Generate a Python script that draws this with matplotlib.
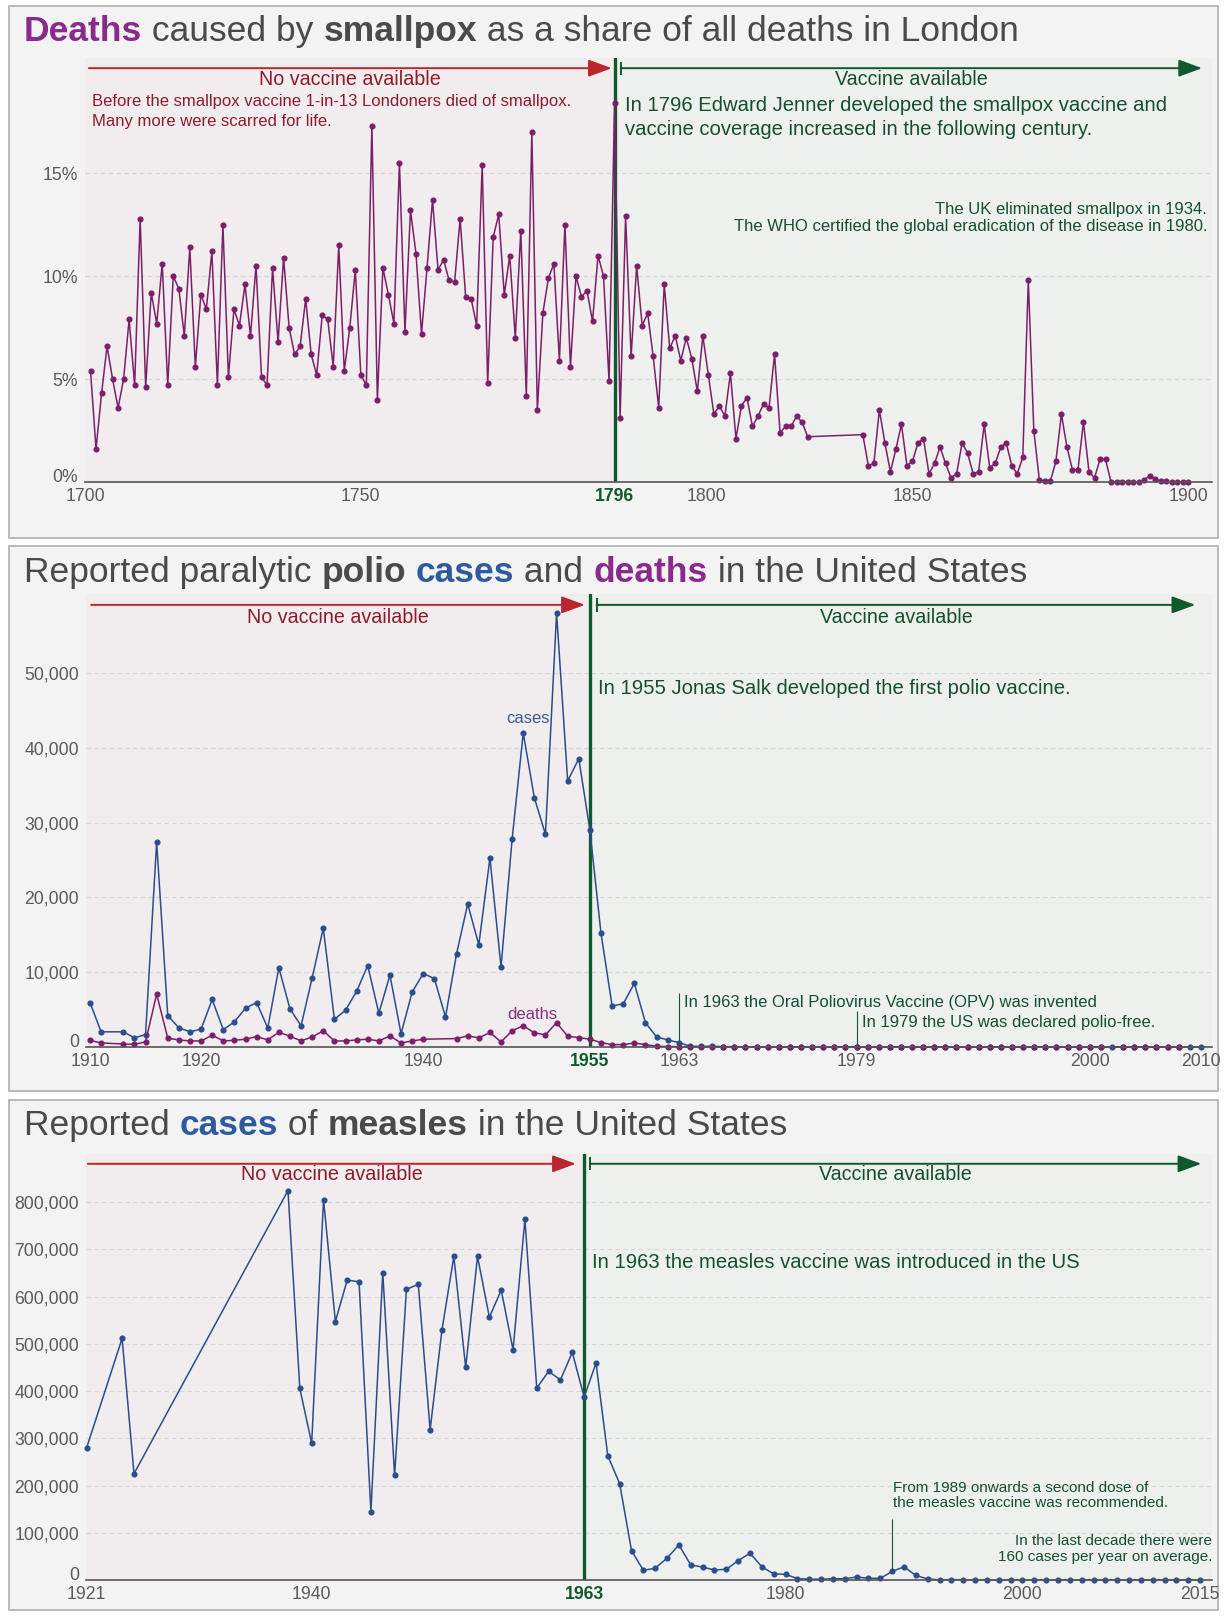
import matplotlib
matplotlib.use("Agg")
import matplotlib.pyplot as plt
from matplotlib.patches import Rectangle
from matplotlib.transforms import blended_transform_factory, ScaledTranslation

plt.rcParams['font.family'] = ['Liberation Sans', 'DejaVu Sans']

# ---------------- data ----------------
# smallpox deaths as share of all deaths in London, %
smallpox_years = list(range(1701, 1832)) + list(range(1841, 1901))
smallpox_share = [
    5.4, 1.6, 4.3, 6.6, 5.0, 3.6, 5.0, 7.9, 4.7, 12.8,
    4.6, 9.2, 7.7, 10.6, 4.7, 10.0, 9.4, 7.1, 11.4, 5.6,
    9.1, 8.4, 11.2, 4.7, 12.5, 5.1, 8.4, 7.6, 9.6, 7.1,
    10.5, 5.1, 4.7, 10.4, 6.8, 10.9, 7.5, 6.2, 6.6, 8.9,
    6.2, 5.2, 8.1, 7.9, 5.6, 11.5, 5.4, 7.5, 10.3, 5.2,
    4.7, 17.3, 4.0, 10.4, 9.1, 7.7, 15.5, 7.3, 13.2, 11.1,
    7.2, 10.4, 13.7, 10.3, 10.8, 9.8, 9.7, 12.8, 9.0, 8.9,
    7.6, 15.4, 4.8, 11.9, 13.0, 9.1, 11.0, 7.0, 12.2, 4.2,
    17.0, 3.5, 8.2, 9.9, 10.6, 5.9, 12.5, 5.6, 10.0, 9.0,
    9.3, 7.8, 11.0, 10.0, 4.9, 18.4,
    # 1797-1831
    3.1, 12.9, 6.1, 10.5, 7.6, 8.2, 6.1, 3.6, 9.6, 6.5,
    7.1, 5.9, 7.0, 6.0, 4.4, 7.1, 5.2, 3.3, 3.7, 3.2,
    5.3, 2.1, 3.7, 4.1, 2.7, 3.2, 3.8, 3.6, 6.2, 2.4,
    2.7, 2.7, 3.2, 2.9, 2.2,
    # 1841-1900
    2.3, 0.8, 0.9, 3.5, 1.9, 0.5, 1.6, 2.8, 0.8, 1.0,
    1.9, 2.1, 0.4, 0.9, 1.7, 0.9, 0.2, 0.4, 1.9, 1.4,
    0.4, 0.5, 2.8, 0.7, 0.9, 1.7, 1.9, 0.8, 0.4, 1.2,
    9.8, 2.5, 0.1, 0.05, 0.05, 1.0, 3.3, 1.7, 0.6, 0.6,
    2.9, 0.5, 0.2, 1.1, 1.1,
    0.0, 0.0, 0.0, 0.0, 0.0, 0.0, 0.1, 0.3, 0.15, 0.05,
    0.03, 0.01, 0.01, 0.0, 0.0,
]

# paralytic polio in the US
polio_case_years = [1910, 1911] + list(range(1913, 2011))
polio_cases = [
    5950, 2030, 2030, 1220, 1670, 27400, 4190, 2570, 2030, 2390,
    6360, 2300, 3380, 5190, 5950, 2530, 10600, 5100, 2840, 9250,
    15900, 3700, 4920, 7440, 10900, 4510, 9610, 1760, 7350, 9830,
    9160, 4010, 12490, 19130, 13670, 25260, 10690, 27830, 42000, 33330,
    28460, 58050, 35590, 38570, 29000,
    15200, 5500, 5770, 8520, 3250, 1350, 950, 590, 120, 72,
    113, 41, 53, 20, 33, 21, 31, 8, 7, 13,
    10, 19, 8, 22, 9, 10, 12, 13, 9, 8,
    10, 9, 9, 11, 6, 10, 6, 4, 8, 7,
    7, 4, 3, 2, 0, 0, 1, 0, 0, 0,
    0, 0, 0, 1, 0,
]
polio_death_years = ([1910, 1911] + list(range(1913, 1941)) +
                     list(range(1943, 2002)) + list(range(2003, 2009)))
polio_deaths = [
    900, 540, 400, 360, 680, 7080, 1170, 950, 810, 810,
    1580, 810, 900, 1040, 1400, 950, 1980, 1440, 810, 1350,
    2170, 810, 810, 950, 1040, 810, 1490, 540, 810, 1040,
    1130, 1490, 1220, 1940, 680, 2170, 2840, 1890, 1620, 3250,
    1440, 1260, 1040,
    590, 320, 320, 540, 320, 90, 60, 41, 17, 16,
    9, 16, 24, 13, 7, 18, 2, 10, 3, 9,
    16, 16, 13, 10, 5, 3, 2, 2, 1, 2,
    1, 1, 1, 1, 1, 0, 0, 0, 0, 0,
    0, 0, 0, 0, 0, 0,
    0, 0, 0, 0, 0, 0,
]

# measles in the US
measles_years = [1921, 1924, 1925] + list(range(1938, 2016))
measles_cases = [
    279500, 511400, 225000,
    824200, 405300, 289400, 805300, 547000, 634800, 631100, 144700, 650800, 221200,
    615200, 625800, 318200, 529500, 684800, 450000, 684800, 556100, 613600, 487100,
    763600, 406100, 441700, 423500, 481800, 387100, 459100, 262900, 203800,
    62100, 20500, 25000, 46200, 74200, 31800, 27300, 21200, 22700, 40900,
    56800, 28000, 12900, 12100, 3000, 1700, 1500, 2600, 2800, 6300,
    3700, 3400, 18200, 27800, 9600, 2200,
    312, 963, 309, 508, 138, 100, 100, 86, 116, 44,
    56, 37, 66, 55, 43, 140, 71, 63, 220, 55,
    187, 667, 188,
]

smallpox_yticks = [0, 5, 10, 15]
smallpox_ylabels = ['0%', '5%', '10%', '15%']
smallpox_xticks = [1700, 1750, 1796, 1850, 1900]
polio_yticks = [0, 10000, 20000, 30000, 40000, 50000]
polio_xticks = [1910, 1920, 1940, 1955, 1963, 1979, 2000, 2010]
measles_yticks = [0, 100000, 200000, 300000, 400000, 500000, 600000, 700000, 800000]
measles_xticks = [1921, 1940, 1963, 1980, 2000, 2015]

# ---------------- style ----------------
W, H = 1229, 1618
PURPLE_T = '#8a2a8c'
PURPLE = '#7b1f68'
BLUE_T = '#2f5a9e'
BLUE = '#2b4d8c'
GREEN = '#0f5a2c'
GREEN_T = '#14502d'
RED = '#bb2530'
RED_T = '#8e1b2b'
GRAY = '#4a4a4a'
TICK = '#5a5a5a'
PRE_BG = '#f1edef'
POST_BG = '#eef0ee'
BOX_BG = '#f3f3f3'

fig = plt.figure(figsize=(W / 100, H / 100), dpi=100)
fig.patch.set_facecolor('white')
renderer = fig.canvas.get_renderer()


def add_box(top, bottom):
    fig.add_artist(Rectangle((9 / W, 1 - bottom / H), (1218 - 9) / W, (bottom - top) / H,
                             transform=fig.transFigure, facecolor=BOX_BG,
                             edgecolor='#b5b5b5', lw=1.3, zorder=-5))


def add_title(baseline, parts):
    x = 24 / W
    for s, color, weight in parts:
        t = fig.text(x, 1 - baseline / H, s, color=color, fontweight=weight,
                     fontsize=25.5, va='baseline', ha='left')
        x += t.get_window_extent(renderer).width / W


def make_axes(left, top, bottom, xlim, ylim, vacc, yticks, ylabels):
    ax = fig.add_axes([left / W, 1 - bottom / H, (1212 - left) / W, (bottom - top) / H])
    ax.patch.set_visible(False)
    ax.set_xlim(*xlim)
    ax.set_ylim(*ylim)
    ax.axvspan(xlim[0], vacc, color=PRE_BG, zorder=0, lw=0)
    ax.axvspan(vacc, xlim[1], color=POST_BG, zorder=0, lw=0)
    ax.set_axisbelow(True)
    ax.set_yticks(yticks)
    ax.set_yticklabels(ylabels)
    # the zero label sits on the axis line, as in the original
    ax.get_yticklabels()[0].set_va('baseline')
    ax.grid(axis='y', linestyle=(0, (4, 3)), color='#d6d6d6', lw=0.8)
    for side in ['top', 'right', 'left']:
        ax.spines[side].set_visible(False)
    ax.spines['bottom'].set_color('#555555')
    ax.spines['bottom'].set_linewidth(1.2)
    ax.spines['bottom'].set_zorder(4)
    ax.tick_params(length=0, labelsize=12.7, labelcolor=TICK)
    ax.tick_params(axis='y', pad=5)
    ax.tick_params(axis='x', pad=4.5)
    ax.axvline(vacc, color=GREEN, lw=2.4, zorder=2)
    return ax


def vaccine_arrows(ax, red_start, red_end, green_start, green_end, y_arrow, y_text):
    tr = blended_transform_factory(ax.transData, ax.transAxes)
    ax.annotate('', xy=(red_end, y_arrow), xytext=(red_start, y_arrow), xycoords=tr, textcoords=tr,
                arrowprops=dict(arrowstyle='-|>,head_length=0.6,head_width=0.22', color=RED,
                                lw=1.4, mutation_scale=24, shrinkA=0, shrinkB=0))
    ax.annotate('', xy=(green_end, y_arrow), xytext=(green_start, y_arrow), xycoords=tr, textcoords=tr,
                arrowprops=dict(arrowstyle='-|>,head_length=0.6,head_width=0.22', color=GREEN,
                                lw=1.4, mutation_scale=24, shrinkA=0, shrinkB=0))
    ax.plot([green_start, green_start], [y_arrow - 0.013, y_arrow + 0.013], color=GREEN, lw=1.4,
            transform=tr, clip_on=False)
    ax.text((red_start + red_end) / 2, y_text, 'No vaccine available', transform=tr,
            ha='center', va='center', fontsize=14.2, color=RED_T)
    ax.text((green_start + green_end) / 2, y_text, 'Vaccine available', transform=tr,
            ha='center', va='center', fontsize=14.2, color=GREEN_T)


def style_xticks(ax, ticks, vacc):
    ax.set_xticks(ticks)
    ax.set_xticklabels([str(t) for t in ticks])
    for t, lab in zip(ticks, ax.get_xticklabels()):
        if t == vacc:
            lab.set_color(GREEN)
            lab.set_fontweight('bold')


line_kw = dict(marker='o', markersize=3.4, lw=1.1, zorder=3, clip_on=False)
BIG = 14.6
SMALL = 12

# ---------------- panel 1: smallpox ----------------
add_box(6, 538)
add_title(41, [('Deaths', PURPLE_T, 'bold'), (' caused by ', GRAY, 'normal'),
               ('smallpox', GRAY, 'bold'), (' as a share of all deaths in London', GRAY, 'normal')])
ax1 = make_axes(85, 58, 482, (1700, 1904.3), (0, 20.6), 1796, smallpox_yticks, smallpox_ylabels)
ax1.plot(smallpox_years, smallpox_share, color=PURPLE, **line_kw)
style_xticks(ax1, smallpox_xticks, 1796)
ax1.text(1800, 0, '1800', fontsize=12.7, color=TICK, ha='center', va='top',
         transform=blended_transform_factory(ax1.transData, ax1.transAxes)
         + ScaledTranslation(0.70, -4.5 / 72, fig.dpi_scale_trans))
vaccine_arrows(ax1, 1700.7, 1795.5, 1797.1, 1902.5, 0.976, 0.950)
ax1.text(1701.3, 18.5, 'Before the smallpox vaccine 1-in-13 Londoners died of smallpox.',
         fontsize=SMALL, color=RED_T, va='center')
ax1.text(1701.3, 17.5, 'Many more were scarred for life.', fontsize=SMALL, color=RED_T, va='center')
ax1.text(1797.8, 18.3, 'In 1796 Edward Jenner developed the smallpox vaccine and',
         fontsize=BIG, color=GREEN_T, va='center')
ax1.text(1797.8, 17.14, 'vaccine coverage increased in the following century.',
         fontsize=BIG, color=GREEN_T, va='center')
ax1.text(1903.4, 13.25, 'The UK eliminated smallpox in 1934.', fontsize=SMALL, color=GREEN_T,
         va='center', ha='right')
ax1.text(1903.4, 12.43, 'The WHO certified the global eradication of the disease in 1980.',
         fontsize=SMALL, color=GREEN_T, va='center', ha='right')

# ---------------- panel 2: polio ----------------
add_box(546, 1091)
add_title(582, [('Reported paralytic ', GRAY, 'normal'), ('polio', GRAY, 'bold'), (' ', GRAY, 'normal'),
                ('cases', BLUE_T, 'bold'), (' and ', GRAY, 'normal'), ('deaths', PURPLE_T, 'bold'),
                (' in the United States', GRAY, 'normal')])
ax2 = make_axes(86, 594, 1047, (1909.64, 2011), (0, 60600), 1955, polio_yticks,
                ['0', '10,000', '20,000', '30,000', '40,000', '50,000'])
ax2.plot(polio_case_years, polio_cases, color=BLUE, **line_kw)
ax2.plot(polio_death_years, polio_deaths, color=PURPLE, **line_kw)
style_xticks(ax2, polio_xticks, 1955)
vaccine_arrows(ax2, 1910.1, 1954.55, 1955.6, 2009.5, 0.976, 0.949)
ax2.text(1949.4, 44000, 'cases', fontsize=12, color='#3d5b8c', ha='center', va='center')
ax2.text(1949.8, 4400, 'deaths', fontsize=12, color='#86307f', ha='center', va='center')
ax2.text(1955.7, 48000, 'In 1955 Jonas Salk developed the first polio vaccine.',
         fontsize=BIG, color=GREEN_T, va='center')
ax2.vlines(1963, 0, 7200, color=GREEN, lw=0.8, zorder=2)
ax2.text(1963.5, 6000, 'In 1963 the Oral Poliovirus Vaccine (OPV) was invented',
         fontsize=SMALL, color=GREEN_T, va='center')
ax2.vlines(1979, 0, 4800, color=GREEN, lw=0.8, zorder=2)
ax2.text(1979.5, 3340, 'In 1979 the US was declared polio-free.',
         fontsize=SMALL, color=GREEN_T, va='center')

# ---------------- panel 3: measles ----------------
add_box(1100, 1610)
add_title(1135, [('Reported ', GRAY, 'normal'), ('cases', BLUE_T, 'bold'), (' of ', GRAY, 'normal'),
                 ('measles', GRAY, 'bold'), (' in the United States', GRAY, 'normal')])
ax3 = make_axes(86, 1154, 1580, (1920.95, 2016), (0, 901600), 1963, measles_yticks,
                [f'{v:,}' for v in measles_yticks])
ax3.plot(measles_years, measles_cases, color=BLUE, **line_kw)
style_xticks(ax3, measles_xticks, 1963)
vaccine_arrows(ax3, 1921.1, 1962.3, 1963.5, 2015.1, 0.977, 0.951)
ax3.text(1963.7, 673000, 'In 1963 the measles vaccine was introduced in the US',
         fontsize=BIG, color=GREEN_T, va='center')
ax3.vlines(1989, measles_cases[measles_years.index(1989)], 129000, color=GREEN, lw=0.8, zorder=2)
ax3.text(1989.1, 194000, 'From 1989 onwards a second dose of', fontsize=11, color=GREEN_T, va='center')
ax3.text(1989.1, 162000, 'the measles vaccine was recommended.', fontsize=11, color=GREEN_T, va='center')
ax3.text(2016.0, 82000, 'In the last decade there were', fontsize=11, color=GREEN_T,
         va='center', ha='right')
ax3.text(2016.0, 48000, '160 cases per year on average.', fontsize=11, color=GREEN_T,
         va='center', ha='right')

fig.savefig('out.png', dpi=100, facecolor='white')
